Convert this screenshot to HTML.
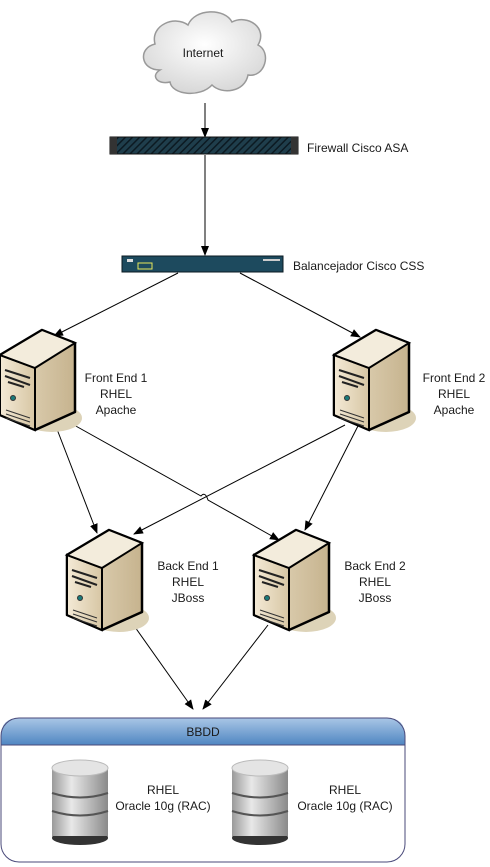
<!DOCTYPE html>
<html><head><meta charset="utf-8"><style>
body{margin:0;background:#fff;width:490px;height:867px;overflow:hidden}
svg{display:block;font-family:"Liberation Sans",sans-serif;font-size:12px;fill:#1a1a1a}
</style></head><body>
<svg width="490" height="867" viewBox="0 0 490 867" xmlns="http://www.w3.org/2000/svg">
<defs>
<marker id="a" markerWidth="10" markerHeight="10" refX="9" refY="5" orient="auto" markerUnits="userSpaceOnUse"><path d="M0,1 L10,5 L0,9 Z" fill="#000"/></marker>
<linearGradient id="srv" x1="0" x2="1"><stop offset="0" stop-color="#f4ead6"/><stop offset="1" stop-color="#d7c6a4"/></linearGradient>
<linearGradient id="srvs" x1="0" x2="1"><stop offset="0" stop-color="#e8dcc2"/><stop offset="1" stop-color="#c6b38e"/></linearGradient>
<linearGradient id="cyl" x1="0" x2="1"><stop offset="0" stop-color="#9a9a9a"/><stop offset=".35" stop-color="#e8e8e8"/><stop offset="1" stop-color="#8a8a8a"/></linearGradient>
<linearGradient id="hdr" x1="0" y1="0" x2="0" y2="1"><stop offset="0" stop-color="#a9c6e6"/><stop offset="1" stop-color="#4f86c2"/></linearGradient>
<radialGradient id="cl" cx=".5" cy=".4" r=".6"><stop offset="0" stop-color="#fff"/><stop offset="1" stop-color="#d8d8d8"/></radialGradient>
<pattern id="hatch" width="5" height="5" patternUnits="userSpaceOnUse" patternTransform="rotate(45)"><rect width="5" height="5" fill="#1f3e4c"/><rect width="1.5" height="5" fill="#0c1a22"/></pattern>
<g id="server">
<ellipse cx="52" cy="88" rx="30" ry="14" fill="#ddd3b8"/>
<path d="M0,25 L42,0 L75,13 L75,82 L35,100 L0,85 Z" fill="url(#srvs)" stroke="#000" stroke-width="2.5" stroke-linejoin="round"/>
<path d="M0,25 L35,38 L35,100 L0,85 Z" fill="url(#srv)" stroke="#000" stroke-width="2"/>
<path d="M0,25 L42,0 L75,13 L35,38 Z" fill="#f3ecdc" stroke="#000" stroke-width="2"/>
<path d="M5,40 L30,48 M5,46 L30,55 M8,52 L24,57" stroke="#222" stroke-width="2"/>
<circle cx="13" cy="68" r="2.5" fill="#1a7a7a" stroke="#333"/>
<path d="M6,80 L30,88 M6,84 L30,92 M6,88 L30,96" stroke="#333" stroke-width="1.1"/>
</g>
<g id="db">
<rect x="0" y="10" width="56" height="70" fill="url(#cyl)"/>
<ellipse cx="28" cy="80" rx="28" ry="7" fill="#333"/>
<rect x="0" y="10" width="56" height="68" fill="url(#cyl)"/>
<ellipse cx="28" cy="10" rx="28" ry="8" fill="#e4e4e4" stroke="#bbb"/>
<path d="M0,35 Q28,44 56,35 M0,53 Q28,62 56,53" stroke="#555" stroke-width="2" fill="none"/>
</g>
</defs>
<!-- cloud -->
<path d="M160,70 C140,70 138,48 155,44 C150,25 175,15 188,25 C195,8 225,8 232,22 C248,14 268,28 258,45 C272,52 265,78 248,75 C245,92 222,95 212,85 C200,98 172,95 170,82 C158,85 150,76 160,70 Z" fill="url(#cl)" stroke="#999" stroke-width="1.5"/>
<text x="203" y="57" text-anchor="middle">Internet</text>
<g stroke="#000" stroke-width="1" fill="none">
<line x1="205" y1="103" x2="205" y2="137" marker-end="url(#a)"/>
<line x1="205" y1="155" x2="205" y2="255" marker-end="url(#a)"/>
<line x1="178" y1="273" x2="54" y2="336" marker-end="url(#a)"/>
<line x1="240" y1="273" x2="360" y2="337" marker-end="url(#a)"/>
<line x1="55" y1="424" x2="97" y2="533" marker-end="url(#a)"/>
<path d="M65,420 L201,496 Q205,491 208,500 L279,540" marker-end="url(#a)"/>
<line x1="360" y1="422" x2="305" y2="530" marker-end="url(#a)"/>
<line x1="345" y1="425" x2="134" y2="534" marker-end="url(#a)"/>
<line x1="130" y1="620" x2="193" y2="709" marker-end="url(#a)"/>
<line x1="268" y1="625" x2="203" y2="709" marker-end="url(#a)"/>
</g>
<!-- firewall -->
<rect x="110" y="137" width="188" height="17" fill="url(#hatch)" stroke="#111"/>
<rect x="110" y="137" width="7" height="17" fill="#333"/><rect x="291" y="137" width="7" height="17" fill="#333"/>
<text x="307" y="152">Firewall Cisco ASA</text>
<!-- balancer -->
<rect x="122" y="256" width="161" height="16" fill="#1d4a5e" stroke="#0a1a22"/>
<rect x="138" y="263" width="14" height="6" fill="none" stroke="#e8e85a"/>
<rect x="127" y="259" width="6" height="3" fill="#ddd"/>
<rect x="263" y="259" width="17" height="2" fill="#ccc"/>
<text x="293" y="270">Balancejador Cisco CSS</text>
<use href="#server" x="0" y="330"/>
<use href="#server" x="334" y="330"/>
<use href="#server" x="67" y="530"/>
<use href="#server" x="254" y="530"/>
<g text-anchor="middle">
<text x="116" y="382">Front End 1</text><text x="116" y="398">RHEL</text><text x="116" y="414">Apache</text>
<text x="454" y="382">Front End 2</text><text x="454" y="398">RHEL</text><text x="454" y="414">Apache</text>
<text x="188" y="570">Back End 1</text><text x="188" y="586">RHEL</text><text x="188" y="602">JBoss</text>
<text x="375" y="570">Back End 2</text><text x="375" y="586">RHEL</text><text x="375" y="602">JBoss</text>
</g>
<!-- BBDD -->
<path d="M1,745 V736 Q1,718 19,718 H387 Q405,718 405,736 V745 Z" fill="url(#hdr)"/>
<rect x="1" y="718" width="404" height="144" rx="18" fill="none" stroke="#4a4a7a" stroke-width="1"/>
<line x1="1" y1="745" x2="405" y2="745" stroke="#4a4a7a"/>
<text x="203" y="736" text-anchor="middle">BBDD</text>
<use href="#db" x="52" y="758"/>
<use href="#db" x="232" y="758"/>
<g text-anchor="middle">
<text x="163" y="794">RHEL</text><text x="163" y="810">Oracle 10g (RAC)</text>
<text x="345" y="794">RHEL</text><text x="345" y="810">Oracle 10g (RAC)</text>
</g>
</svg>
</body></html>
